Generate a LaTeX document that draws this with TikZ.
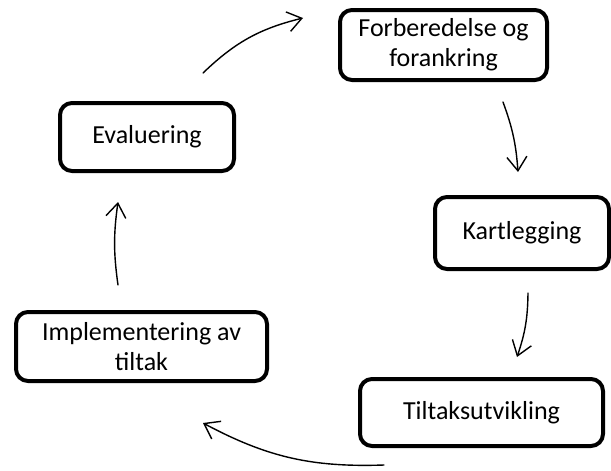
\documentclass[tikz,border=0pt]{standalone}
\usepackage{fontspec}
\setmainfont{Carlito}
\usetikzlibrary{arrows.meta}
\begin{document}
\begin{tikzpicture}[x=1pt,y=-1pt,
  box/.style={draw, line width=4pt, rounded corners=12pt, align=center,
    font=\fontsize{26}{30}\selectfont, inner sep=0pt},
  arr/.style={line width=1.4pt, line cap=round,
    -{Straight Barb[length=14pt,width=20pt,line width=1.4pt]}}]
\useasboundingbox (0,0) rectangle (611,471);
\node[box, minimum width=207pt, minimum height=70pt] (forb) at (443.5,45) {Forberedelse og\\forankring};
\node[box, minimum width=174pt, minimum height=68pt] (eval) at (147,137) {Evaluering};
\node[box, minimum width=174pt, minimum height=72pt] (kart) at (522,233) {Kartlegging};
\node[box, minimum width=243pt, minimum height=67pt] (tilt) at (481.5,412.5) {Tiltaksutvikling};
\node[box, minimum width=251pt, minimum height=69pt] (impl) at (141.5,346.5) {Implementering av\\tiltak};
\coordinate (a1s) at (203,73);  \coordinate (a1e) at (303,18);
\coordinate (a2s) at (503,102); \coordinate (a2e) at (518,172);
\coordinate (a3s) at (528,293); \coordinate (a3e) at (517,357);
\coordinate (a4s) at (384,465); \coordinate (a4e) at (203,423);
\coordinate (a5s) at (118,285); \coordinate (a5e) at (118,202);
\draw[arr] (a1s) to[bend left=15] (a1e);
\draw[arr] (a2s) to[bend left=8] (a2e);
\draw[arr] (a3s) to[bend left=9] (a3e);
\draw[arr] (a4s) to[bend left=15] (a4e);
\draw[arr] (a5s) to[bend left=8] (a5e);
\end{tikzpicture}
\end{document}
